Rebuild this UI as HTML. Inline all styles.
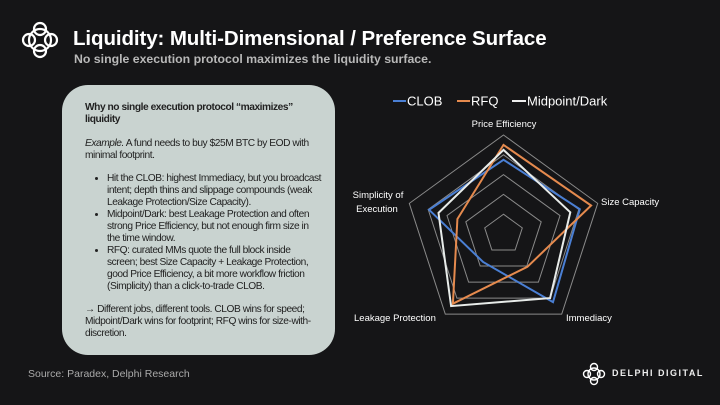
<!DOCTYPE html>
<html><head><meta charset="utf-8"><style>
body{margin:0;width:720px;height:405px;background:#151517;overflow:hidden;font-family:"Liberation Sans",sans-serif;position:relative}
.t{position:absolute;left:73px;top:27px;color:#fff;font-size:20.5px;font-weight:bold;white-space:nowrap;letter-spacing:-0.1px}
.s{position:absolute;left:74px;top:52px;color:#b8b8b8;font-size:12.3px;font-weight:bold;white-space:nowrap}
.p{position:absolute;left:62px;top:85px;width:273px;height:270px;background:#c9d3d0;border-radius:26px}
.pt{position:absolute;left:85px;top:102px;width:236px;color:#222;font-size:10.2px;line-height:11.9px;letter-spacing:-0.45px}
.pt ul{margin:0;padding-left:22px}
.src{position:absolute;left:28px;top:368px;color:#aaa;font-size:10.5px}
.dd{position:absolute;left:612px;top:368px;color:#eee;font-size:9px;letter-spacing:1.5px;font-weight:bold}
</style></head><body>
<svg style="position:absolute;left:0;top:0" width="720" height="405">
<g fill="none" stroke="#fff" stroke-width="2.2">
<circle cx="40" cy="40" r="11"/><circle cx="40" cy="29" r="6"/><circle cx="40" cy="51" r="6"/><circle cx="29" cy="40" r="6"/><circle cx="51" cy="40" r="6"/>
</g>
<g fill="none" stroke="#fff" stroke-width="1.4">
<circle cx="594" cy="374" r="6"/><circle cx="594" cy="367" r="3.5"/><circle cx="594" cy="381" r="3.5"/><circle cx="587" cy="374" r="3.5"/><circle cx="601" cy="374" r="3.5"/>
</g>
<g id="radar"></g>
<g font-size="10.5" fill="#fff">
<line x1="393" y1="101" x2="406" y2="101" stroke="#4a7fd4" stroke-width="2"/><text x="407" y="105.5" font-size="13">CLOB</text>
<line x1="457" y1="101" x2="470" y2="101" stroke="#e58a4e" stroke-width="2"/><text x="471" y="105.5" font-size="13">RFQ</text>
<line x1="512" y1="101" x2="526" y2="101" stroke="#eee" stroke-width="2"/><text x="527" y="105.5" font-size="13">Midpoint/Dark</text>
<text x="504" y="127" text-anchor="middle" font-size="9.5">Price Efficiency</text>
<text x="601" y="205" font-size="9.5">Size Capacity</text>
<text x="566" y="321" font-size="9.5">Immediacy</text>
<text x="354" y="321" font-size="9.5">Leakage Protection</text>
<text x="378" y="198" text-anchor="middle" font-size="9.5">Simplicity of</text>
<text x="377" y="212" text-anchor="middle" font-size="9.5">Execution</text>
</g>
</svg>
<div class="t">Liquidity: Multi-Dimensional / Preference Surface</div>
<div class="s">No single execution protocol maximizes the liquidity surface.</div>
<div class="p"></div>
<div class="pt"><b>Why no single execution protocol “maximizes” liquidity</b><br><br>
<i>Example.</i> A fund needs to buy $25M BTC by EOD with minimal footprint.<br><br>
<ul><li>Hit the CLOB: highest Immediacy, but you broadcast intent; depth thins and slippage compounds (weak Leakage Protection/Size Capacity).</li>
<li>Midpoint/Dark: best Leakage Protection and often strong Price Efficiency, but not enough firm size in the time window.</li>
<li>RFQ: curated MMs quote the full block inside screen; best Size Capacity + Leakage Protection, good Price Efficiency, a bit more workflow friction (Simplicity) than a click-to-trade CLOB.</li></ul><br>
→ Different jobs, different tools. CLOB wins for speed; Midpoint/Dark wins for footprint; RFQ wins for size-with-discretion.</div>
<div class="src">Source: Paradex, Delphi Research</div>
<div class="dd">DELPHI DIGITAL</div>
<script>
var cx=503.5,cy=234,R=99,g=document.getElementById('radar'),h='';
function pts(v){return v.map(function(r,i){var a=(-90+72*i)*Math.PI/180;return (cx+R*r*Math.cos(a)).toFixed(1)+','+(cy+R*r*Math.sin(a)).toFixed(1)}).join(' ')}
[1,0.8,0.6,0.4,0.2].forEach(function(k){h+='<polygon points="'+pts([k,k,k,k,k])+'" fill="none" stroke="#8a8a8a" stroke-width="1"/>'});
h+='<polygon points="'+pts([0.75,0.81,0.85,0.35,0.79])+'" fill="none" stroke="#4a7fd4" stroke-width="2"/>';
h+='<polygon points="'+pts([0.9,0.93,0.41,0.87,0.49])+'" fill="none" stroke="#e58a4e" stroke-width="2"/>';
h+='<polygon points="'+pts([0.85,0.71,0.8,0.9,0.69])+'" fill="none" stroke="#e8ecea" stroke-width="2"/>';
g.innerHTML=h;
</script>
</body></html>
